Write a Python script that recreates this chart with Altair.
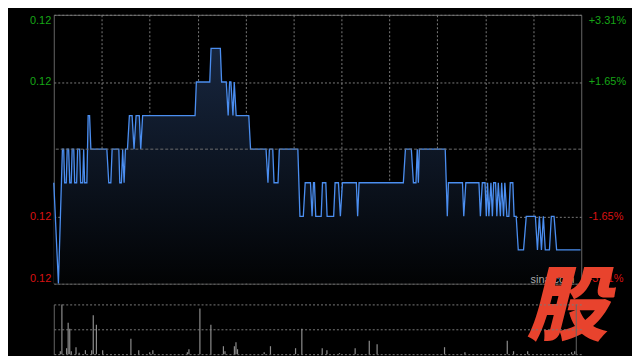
import altair as alt
import pandas as pd

# ---- data (minutes after open, price) ----
minutes = [0, 2.9, 5.4, 6.2, 6.8, 7.8, 8.4, 9.3, 10, 10.9, 11.5, 12.5, 13.1, 14.3, 14.9, 16.2,
           16.8, 18.1, 18.7, 19.3, 20.7, 21.5, 22.4, 23.2, 33.2, 34.4, 35.7, 36.5, 40.7, 41.3,
           42.3, 43.1, 44.0, 44.8, 46.1, 47.3, 49.0, 50.2, 51.5, 53.5, 54.4, 55.6, 88.4, 89.2,
           97.6, 98.4, 104.2, 105.0, 107.9, 109.1, 110.0, 110.8, 112.1, 112.9, 114.1, 122.0,
           123.1, 132.8, 134.0, 134.9, 137.0, 137.8, 140.3, 141.1, 152.7, 154.0, 156.1, 157.3,
           160.6, 161.6, 162.5, 163.1, 163.9, 167.3, 168.1, 170.2, 171.0, 175.1, 176.0, 178.1,
           179.3, 180.6, 189.3, 190.1, 191.0, 218.7, 220.0, 223.7, 225.0, 226.6, 227.4, 228.1,
           228.7, 244.9, 246.2, 246.9, 255.7, 256.5, 257.8, 266.0, 266.9, 268.1, 269.8, 270.6,
           271.4, 272.2, 273.5, 274.4, 275.2, 276.4, 277.2, 278.1, 279.4, 280.2, 281.4, 282.2,
           283.5, 284.7, 285.6, 287.2, 288.0, 289.3, 290.6, 293.9, 295.6, 301.3, 302.6, 303.8,
           305.1, 306.3, 307.5, 310.1, 311.3, 313.0, 314.6, 329.6]
prices = [0.120, 0.117, 0.121, 0.121, 0.120, 0.120, 0.121, 0.121, 0.120, 0.120, 0.121, 0.121,
          0.120, 0.120, 0.121, 0.121, 0.120, 0.120, 0.121, 0.120, 0.120, 0.122, 0.122, 0.121,
          0.121, 0.120, 0.120, 0.121, 0.121, 0.120, 0.120, 0.121, 0.120, 0.121, 0.121, 0.122,
          0.122, 0.121, 0.122, 0.122, 0.121, 0.122, 0.122, 0.123, 0.123, 0.124, 0.124, 0.123,
          0.123, 0.122, 0.123, 0.123, 0.122, 0.123, 0.122, 0.122, 0.121, 0.121, 0.120, 0.121,
          0.121, 0.120, 0.120, 0.121, 0.121, 0.119, 0.119, 0.120, 0.120, 0.119, 0.120, 0.120,
          0.119, 0.119, 0.120, 0.120, 0.119, 0.119, 0.120, 0.120, 0.119, 0.120, 0.120, 0.119,
          0.120, 0.120, 0.121, 0.121, 0.120, 0.120, 0.121, 0.120, 0.121, 0.121, 0.119, 0.120,
          0.120, 0.119, 0.120, 0.120, 0.119, 0.120, 0.120, 0.119, 0.120, 0.119, 0.120, 0.119,
          0.120, 0.120, 0.119, 0.120, 0.119, 0.120, 0.119, 0.120, 0.119, 0.119, 0.120, 0.120,
          0.119, 0.119, 0.118, 0.118, 0.119, 0.119, 0.118, 0.119, 0.118, 0.119, 0.118, 0.118,
          0.119, 0.119, 0.118, 0.118]

vol_minutes = [1, 2, 5, 6, 7, 8, 11, 13, 17, 21, 22, 24, 28, 46, 51, 58, 60, 82, 83, 90,
               97, 105, 106, 112, 113, 114, 131, 135, 151, 155, 168, 171, 179, 189, 198, 203,
               246, 259, 286, 290, 299, 327, 329]
volumes = [6, 100, 12, 63, 51, 6, 14, 3, 8, 8, 78, 59, 8, 31, 8, 4, 8, 4, 10, 92,
           59, 16, 6, 16, 24, 10, 4, 16, 12, 51, 12, 8, 2, 12, 27, 20,
           14, 4, 27, 6, 6, 4, 6]

prev_close = 0.121
tick_prices = [0.125, 0.123, 0.119, 0.117]
price_labels = ["0.12", "0.12", "0.12", "0.12"]
pct_labels = ["+3.31%", "+1.65%", "-1.65%", "-3.31%"]
grid_minutes = [30, 60, 90, 120, 150, 180, 210, 240, 270, 300]
session_end = [330]
watermark = ["股"]
watermark_sub = ["sina.com"]

price_df = pd.DataFrame({"t": minutes, "p": prices})
vol_df = pd.DataFrame({"t": vol_minutes, "v": volumes})

X_DOM = [0, 330]
Y_DOM = [min(tick_prices), max(tick_prices)]
GRID = "#7a7a7a"
FRAME = "#666666"
GREEN = "#16a516"
RED = "#d81212"


def label_expr(labels):
    vals = ",".join(repr(v) for v in tick_prices)
    labs = ",".join("'" + s + "'" for s in labels)
    return f"[{labs}][indexof([{vals}], datum.value)]"


label_color = {"condition": {"test": f"datum.value > {prev_close}", "value": GREEN}, "value": RED}

x_price = alt.X("t:Q", scale=alt.Scale(domain=X_DOM, nice=False, zero=False),
                axis=alt.Axis(values=grid_minutes, grid=True, labels=False, ticks=False,
                              domain=False, gridColor=GRID, gridDash=[2, 2], gridWidth=1,
                              title=None))
y_left = alt.Y("p:Q", scale=alt.Scale(domain=Y_DOM, nice=False, zero=False),
               axis=alt.Axis(values=tick_prices, labelExpr=label_expr(price_labels),
                             labelColor=label_color, labelFlush=True, labelPadding=3,
                             ticks=False, domain=False, grid=True, gridDash=[2, 2],
                             gridColor=GRID, gridWidth=1, labelFont="Liberation Sans",
                             labelFontSize=11, title=None))
y_right = alt.Y("p:Q", scale=alt.Scale(domain=Y_DOM, nice=False, zero=False),
                axis=alt.Axis(orient="right", values=tick_prices,
                              labelExpr=label_expr(pct_labels), labelColor=label_color,
                              labelFlush=True, labelPadding=7, ticks=False, domain=False,
                              grid=False, labelFont="Liberation Sans", labelFontSize=11,
                              title=None))

fill = alt.Gradient(gradient="linear",
                    stops=[alt.GradientStop(color="#17263f", offset=0),
                           alt.GradientStop(color="#020304", offset=1)],
                    x1=1, x2=1, y1=0, y2=1)

base = alt.Chart(price_df)
area = base.mark_area(color=fill).encode(x=x_price, y=y_left, y2=alt.datum(Y_DOM[0]))
line = base.mark_line(color="#4b8ef0", strokeWidth=1.3).encode(x=x_price, y=y_left)
ref = alt.Chart(pd.DataFrame({"p": [prev_close]})).mark_rule(
    color="#6e6e6e", strokeDash=[3, 2], strokeWidth=1).encode(y=y_left)
right = base.mark_line(opacity=0).encode(x=x_price, y=y_right)

sub = alt.Chart(pd.DataFrame({"w": watermark_sub})).mark_text(
    font="Liberation Sans", fontSize=11, color="#aaaaaa", align="left", baseline="middle"
).encode(text="w:N", x=alt.value(479), y=alt.value(266))
mark = alt.Chart(pd.DataFrame({"w": watermark})).mark_text(
    font="Noto Sans CJK SC", fontWeight=900, fontStyle="italic", fontSize=82,
    color="#e8432d", align="center", baseline="middle"
).encode(text="w:N", x=alt.value(516), y=alt.value(296))

price = alt.layer(
    alt.layer(area, line, ref),
    right,
    sub,
    mark,
).resolve_scale(y="independent").properties(
    width=530, height=270, view=alt.ViewBackground(stroke=FRAME, strokeWidth=1)
)

x_vol = alt.X("t:Q", scale=alt.Scale(domain=X_DOM, nice=False, zero=False), axis=None)
bars = alt.Chart(vol_df).mark_bar(color="#8c8c8c", size=1.2).encode(
    x=x_vol,
    y=alt.Y("v:Q", scale=alt.Scale(domain=[0, 100], nice=False),
            axis=alt.Axis(values=[0, 50, 100], grid=True, gridDash=[2, 2], gridColor=GRID,
                          labels=False, ticks=False, domain=True, domainColor=FRAME,
                          title=None)),
)
edge = alt.Chart(pd.DataFrame({"t": session_end})).mark_rule(color=FRAME).encode(x=x_vol)

volume = alt.layer(bars, edge).properties(
    width=530, height=50, view=alt.ViewBackground(stroke="transparent")
)

chart = alt.vconcat(price, volume, spacing=21, bounds="flush").properties(
    background="#000000",
    padding={"left": 21, "top": 5, "right": 5, "bottom": 0},
)

chart.save("out.html", embed_options={"renderer": "svg", "actions": False})
